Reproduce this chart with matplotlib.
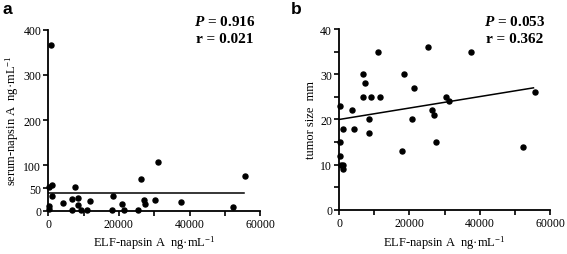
import matplotlib
matplotlib.use("Agg")
import matplotlib.pyplot as plt
import numpy as np

plt.rcParams['font.family'] = ['Liberation Serif', 'DejaVu Serif']
plt.rcParams['mathtext.fontset'] = 'custom'
plt.rcParams['mathtext.rm'] = 'Liberation Serif'
plt.rcParams['mathtext.it'] = 'Liberation Serif:italic'
plt.rcParams['mathtext.bf'] = 'Liberation Serif:bold'
plt.rcParams['mathtext.bfit'] = 'Liberation Serif:italic:bold'

# Panel a data
a_x = [660, 280, 950, 1130, 280, 280, 4250, 6710, 6800, 7650, 8410, 8410, 9350,
       11050, 11720, 18050, 18430, 20880, 21360, 25320, 26360, 27120, 27400,
       30330, 31090, 37510, 52350, 55750]
a_y = [366, 52, 57, 32, 11, 4, 16, 26, 2, 52, 29, 13, 2, 2, 21, 2, 32, 15, 2, 2,
       69, 24, 15, 24, 107, 19, 7, 77]
a_fit_x = [0, 55500]
a_fit_y = [39, 39]

# Panel b data
b_x = [280, 280, 280, 500, 1000, 1000, 1000, 3700, 4270, 6730, 6730, 7490, 8440,
       8440, 9190, 11090, 11750, 18010, 18390, 20850, 21330, 25400, 26350, 27110,
       27490, 30430, 31180, 37630, 52420, 55830]
b_y = [23, 15, 12, 10, 10, 9, 18, 22, 18, 30, 25, 28, 20, 17, 25, 35, 25, 13, 30,
       20, 27, 36, 22, 21, 15, 25, 24, 35, 14, 26]
b_fit_x = [0, 55300]
b_fit_y = [20, 27]

fig = plt.figure(figsize=(5.67, 2.55), dpi=100)
ax1 = fig.add_axes([0.085, 0.170, 0.374, 0.710])
ax2 = fig.add_axes([0.598, 0.173, 0.372, 0.709])

def style(ax):
    for s in ['top', 'right']:
        ax.spines[s].set_visible(False)
    for s in ['left', 'bottom']:
        ax.spines[s].set_linewidth(1.3)
    ax.tick_params(direction='out', length=3.5, width=1.2, labelsize=8.5, pad=1.5)

xlabel = 'ELF-napsin A  ng·mL$^{-1}$'

# Panel a
ax1.scatter(a_x, a_y, s=13, color='black', zorder=3, clip_on=False)
ax1.plot(a_fit_x, a_fit_y, color='black', lw=1.1)
ax1.set_xlim(0, 60000)
ax1.set_ylim(0, 400)
ax1.set_xticks(np.arange(0, 60001, 10000))
ax1.set_xticklabels(['0', '', '20000', '', '40000', '', '60000'])
ax1.set_yticks([0, 50, 100, 200, 300, 400])
ax1.set_yticklabels(['0', '50', '100', '200', '300', '400'])
style(ax1)
ax1.set_xlabel(xlabel, fontsize=9, labelpad=3)
ax1.set_ylabel('serum-napsin A  ng·mL$^{-1}$', fontsize=9, labelpad=2)
fig.text(0.397, 0.912, r'$\mathbfit{P}$ = 0.916', fontsize=11, fontweight='bold',
         ha='center', va='center')
fig.text(0.397, 0.845, 'r = 0.021', fontsize=11, fontweight='bold',
         ha='center', va='center')

# Panel b
ax2.scatter(b_x, b_y, s=13, color='black', zorder=3, clip_on=False)
ax2.plot(b_fit_x, b_fit_y, color='black', lw=1.1)
ax2.set_xlim(0, 60000)
ax2.set_ylim(0, 40)
ax2.set_xticks(np.arange(0, 60001, 10000))
ax2.set_xticklabels(['0', '', '20000', '', '40000', '', '60000'])
ax2.set_yticks(np.arange(0, 41, 5))
ax2.set_yticklabels(['0', '', '10', '', '20', '', '30', '', '40'])
style(ax2)
ax2.set_xlabel(xlabel, fontsize=9, labelpad=3)
ax2.set_ylabel('tumor size  mm', fontsize=9, labelpad=2)
fig.text(0.908, 0.912, r'$\mathbfit{P}$ = 0.053', fontsize=11, fontweight='bold',
         ha='center', va='center')
fig.text(0.908, 0.845, 'r = 0.362', fontsize=11, fontweight='bold',
         ha='center', va='center')

fig.text(0.005, 0.962, 'a', fontsize=12.5, fontweight='bold', family='Liberation Sans',
         ha='left', va='center')
fig.text(0.513, 0.962, 'b', fontsize=12.5, fontweight='bold', family='Liberation Sans',
         ha='left', va='center')

fig.savefig('out.png', dpi=100)
